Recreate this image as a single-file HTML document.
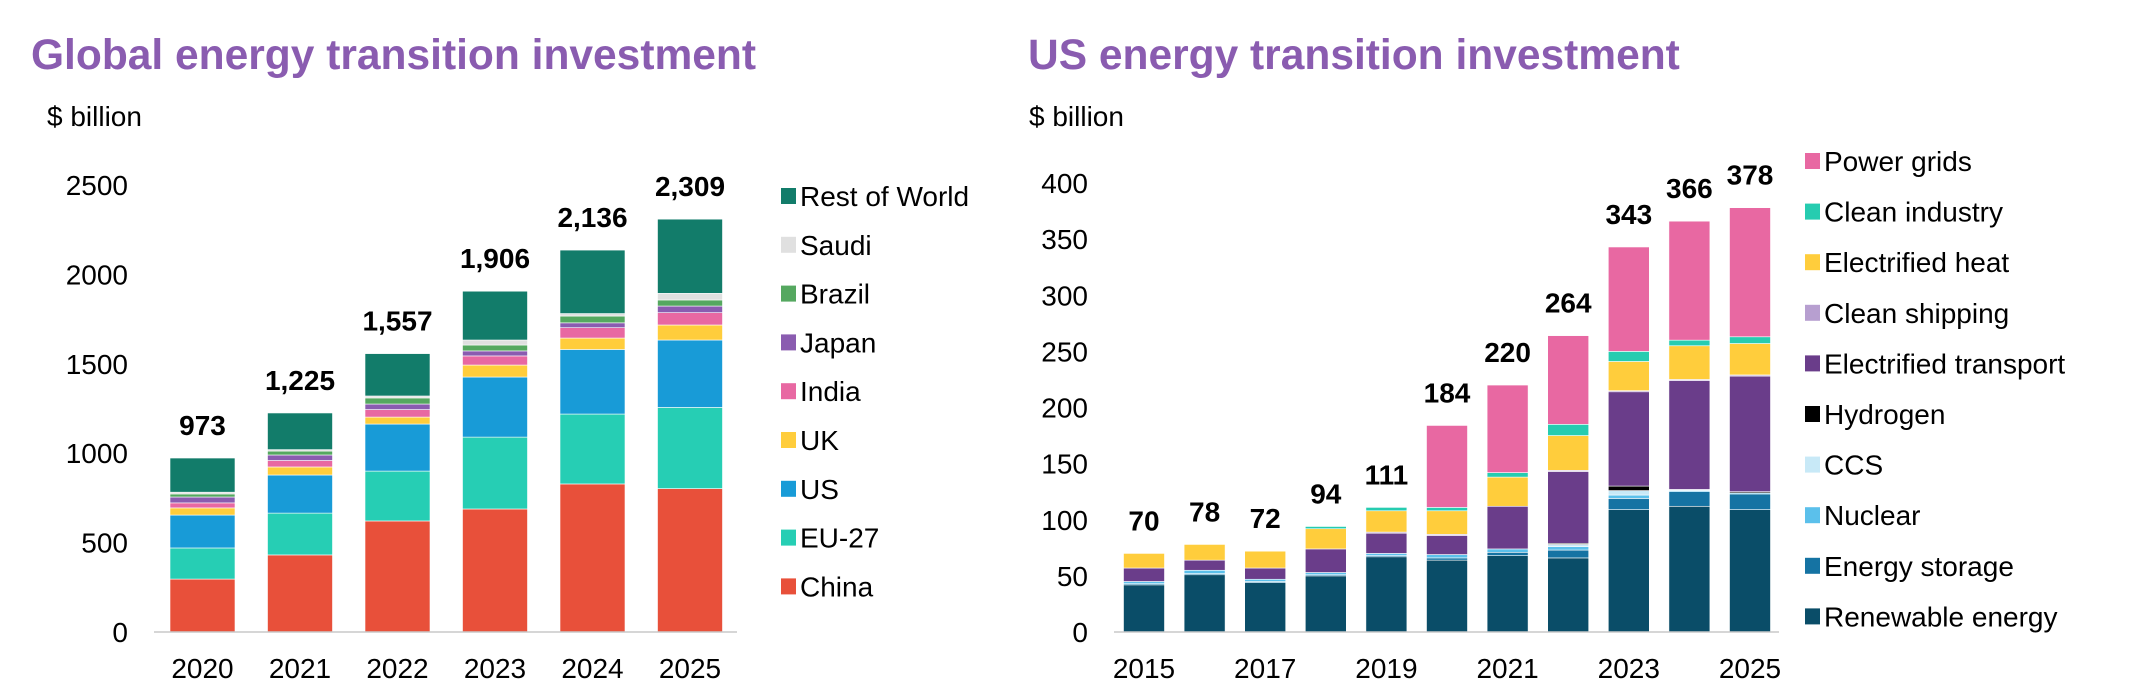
<!DOCTYPE html>
<html><head><meta charset="utf-8"><style>
html,body{margin:0;padding:0;background:#fff;}
svg{display:block;font-family:"Liberation Sans",Arial,sans-serif;}
</style></head><body>
<svg id="c" width="2136" height="684" viewBox="0 0 2136 684">
<text x="31" y="69" font-size="42.5" font-weight="bold" fill="#8a5cb0">Global energy transition investment</text>
<text x="47" y="126" font-size="28" fill="#000">$ billion</text>
<text x="1028" y="69" font-size="42.5" font-weight="bold" fill="#8a5cb0">US energy transition investment</text>
<text x="1029" y="126" font-size="28" fill="#000">$ billion</text>
<g id="left"></g>
<g id="right"></g>
</svg>
<script>
const gYears = ['2020','2021','2022','2023','2024','2025'];
const gSeries = ['China','EU-27','US','UK','India','Japan','Brazil','Saudi','Rest of World'];
const gColors = ['#e8503a','#26ceb4','#189bd7','#ffcd3c','#e868a2','#8a5cb0','#55a860','#e0e0e0','#127c6a'];
const gChina = [296,431,621,688,828,802];
const gEU = [174,234,279,402,391,454];
const gUS = [184,213,263,336,361,377];
const gUK = [40,45,39,67,64,84];
const gIndia = [28,36,42,51,58,69];
const gJapan = [33,31,31,28,27,37];
const gBrazil = [17,22,34,33,38,34];
const gSaudi = [10,8,11,28,14,37];
const gRoW = [191,205,237,273,355,415];
const gTotals = ['973','1,225','1,557','1,906','2,136','2,309'];
const gTicks = [0,500,1000,1500,2000,2500];

const uYears = ['2015','2016','2017','2018','2019','2020','2021','2022','2023','2024','2025'];
const uTickYears = ['2015','2017','2019','2021','2023','2025'];
const uSeries = ['Renewable energy','Energy storage','Nuclear','CCS','Hydrogen','Electrified transport','Clean shipping','Electrified heat','Clean industry','Power grids'];
const uColors = ['#0a4d68','#1573a3','#5bc0eb','#c8e9f7','#000000','#6a3d8a','#b79fd0','#ffcd3c','#26ccb0','#e868a2'];
const uRenew = [42,51,44,50,67,64,68,66,109,112,109];
const uStorage = [1,1,1,1,1,2,3,7,10,13,14];
const uNuclear = [2,3,2,2,2,3,3,3,3,1,1];
const uCCS = [0,0,0,0,0,0,0,2,4,1,0];
const uHydrogen = [0,0,0,0,0,0,0,1,4,0,1];
const uTransport = [12,9,10,21,18,17,38,64,84,97,103];
const uShipping = [0,0,0,0,1,1,0,1,1,1,1];
const uHeat = [13,14,15,18,19,21,26,31,26,30,28];
const uIndustry = [0,0,0,2,3,3,4,10,9,5,6];
const uGrids = [0,0,0,0,0,73,78,79,93,106,115];
const uTotals = ['70','78','72','94','111','184','220','264','343','366','378'];
const uTicks = [0,50,100,150,200,250,300,350,400];

const NS='http://www.w3.org/2000/svg';
function mk(parent,tag,attrs,txt){const e=document.createElementNS(NS,tag);for(const k in attrs)e.setAttribute(k,attrs[k]);if(txt!==undefined)e.textContent=txt;parent.appendChild(e);return e;}

function draw(g,cfg){
  const y=v=>cfg.base-v*cfg.k;
  const x=i=>cfg.x0+i*cfg.pitch;
  cfg.ticks.forEach(t=>{
    const e=mk(g,'text',{x:cfg.tickX,y:y(t)+10,'font-size':28,'text-anchor':'end',fill:'#000'},String(t));
    
    
  });
  cfg.cats.forEach((c,i)=>{
    let acc=0;
    cfg.data.forEach((arr,s)=>{
      const v=arr[i]; if(v<=0){return;}
      const r=mk(g,'rect',{x:x(i)-cfg.bw/2,y:y(acc+v),width:cfg.bw,height:v*cfg.k,fill:cfg.colors[s],stroke:'#fff','stroke-width':0.6});
      
      
      acc+=v;
    });
    const tl=mk(g,'text',{x:x(i),y:y(acc)-23,'font-size':28,'font-weight':'bold','text-anchor':'middle',fill:'#000'},cfg.totals[i]);
    
    
    if(cfg.xlabels.includes(c)){
      const xl=mk(g,'text',{x:x(i),y:cfg.base+46,'font-size':28,'text-anchor':'middle',fill:'#000'},c);
      
      
    }
  });
  const ax=mk(g,'line',{x1:cfg.axX1,x2:cfg.axX2,y1:cfg.base,y2:cfg.base,stroke:'#c8c8c8','stroke-width':1.5});
  
  
  cfg.series.forEach((s,j)=>{
    const idx=cfg.series.length-1-j;
    const ly=cfg.legY0+j*cfg.legStep;
    const eg=mk(g,'g',{});
    
    
    mk(eg,'rect',{x:cfg.legX,y:ly-8,width:15,height:16,fill:cfg.colors[idx]});
    mk(eg,'text',{x:cfg.legX+19,y:ly+10,'font-size':28,fill:'#000'},cfg.series[idx]);
  });
}
draw(document.getElementById('left'),{cats:gYears,series:gSeries,colors:gColors,
  data:[gChina,gEU,gUS,gUK,gIndia,gJapan,gBrazil,gSaudi,gRoW],totals:gTotals,ticks:gTicks,xlabels:gYears,
  base:632,k:447/2500,x0:202.5,pitch:97.5,bw:65,tickX:128,axX1:154,axX2:737,legX:781,legY0:196,legStep:48.8});
draw(document.getElementById('right'),{cats:uYears,series:uSeries,colors:uColors,
  data:[uRenew,uStorage,uNuclear,uCCS,uHydrogen,uTransport,uShipping,uHeat,uIndustry,uGrids],totals:uTotals,ticks:uTicks,xlabels:uTickYears,
  base:632,k:449/400,x0:1144,pitch:60.6,bw:41,tickX:1088,axX1:1114,axX2:1779,legX:1805,legY0:161,legStep:50.6});
</script>
</body></html>
